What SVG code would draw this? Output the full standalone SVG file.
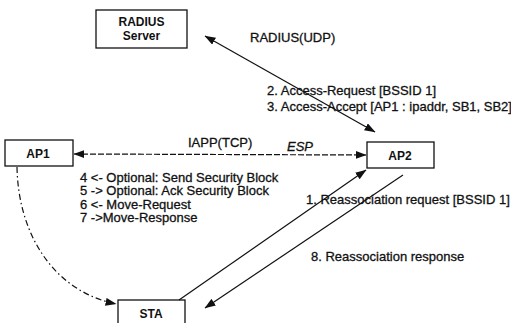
<svg xmlns="http://www.w3.org/2000/svg" width="511" height="323" viewBox="0 0 511 323">
<defs>
<style>
.box{fill:#fff;stroke:#111;stroke-width:1.3}
.t{font-family:"Liberation Sans",Arial,sans-serif;font-size:13px;fill:#111;stroke:#111;stroke-width:0.3}
.tb{font-family:"Liberation Sans",Arial,sans-serif;font-size:12px;font-weight:bold;fill:#111}
.ln{fill:none;stroke:#111;stroke-width:1.2}
</style>
<marker id="ah" viewBox="0 0 10 10" refX="9.5" refY="5" markerWidth="11" markerHeight="8" markerUnits="userSpaceOnUse" orient="auto-start-reverse" preserveAspectRatio="none">
<path d="M0,0 L10,5 L0,10 z" fill="#111"/>
</marker>
</defs>
<rect width="511" height="323" fill="#fff"/>
<g id="radius">
<rect class="box" x="96" y="10" width="91" height="38"/>
<text class="tb" x="141.5" y="26" text-anchor="middle">RADIUS</text>
<text class="tb" x="141.5" y="40" text-anchor="middle">Server</text>
</g>
<g id="ap1">
<rect class="box" x="5" y="140" width="68" height="26"/>
<text class="tb" x="38" y="158" text-anchor="middle" font-size="12.5">AP1</text>
</g>
<g id="ap2">
<rect class="box" x="367" y="142" width="67" height="26"/>
<text class="tb" x="400" y="160" text-anchor="middle" font-size="12.5">AP2</text>
</g>
<g id="sta">
<rect class="box" x="118" y="300" width="67" height="30"/>
<text class="tb" x="151" y="318" text-anchor="middle">STA</text>
</g>
<g id="connectors">
<line class="ln" x1="205" y1="36" x2="375" y2="132" marker-start="url(#ah)" marker-end="url(#ah)"/>
<line class="ln" x1="74" y1="154" x2="366" y2="155" stroke-dasharray="6,2" marker-start="url(#ah)" marker-end="url(#ah)"/>
<line class="ln" x1="179" y1="300" x2="366" y2="170" marker-end="url(#ah)"/>
<line class="ln" x1="403" y1="175" x2="205" y2="308" marker-end="url(#ah)"/>
<path class="ln" d="M17,167 C18,230 50,290 116,304" stroke-dasharray="6,3,1.5,3" marker-end="url(#ah)"/>
</g>
<g id="labels">
<text class="t" x="250" y="42">RADIUS(UDP)</text>
<text class="t" x="267" y="95">2. Access-Request [BSSID 1]</text>
<text class="t" x="267" y="111" font-size="12.7">3. Access-Accept [AP1 : ipaddr, SB1, SB2]</text>
<text class="t" x="188" y="146.5">IAPP(TCP)</text>
<text class="t" x="287" y="151" font-style="italic" font-size="8.5">ESP</text>
<text class="t" x="80" y="181.5">4 &lt;- Optional: Send Security Block</text>
<text class="t" x="80" y="195">5  -&gt; Optional: Ack Security Block</text>
<text class="t" x="80" y="208.5">6 &lt;- Move-Request</text>
<text class="t" x="80" y="222">7 -&gt;Move-Response</text>
<text class="t" x="306" y="204" font-size="12.7">1. Reassociation request [BSSID 1]</text>
<text class="t" x="311" y="261">8. Reassociation response</text>
</g>
</svg>
